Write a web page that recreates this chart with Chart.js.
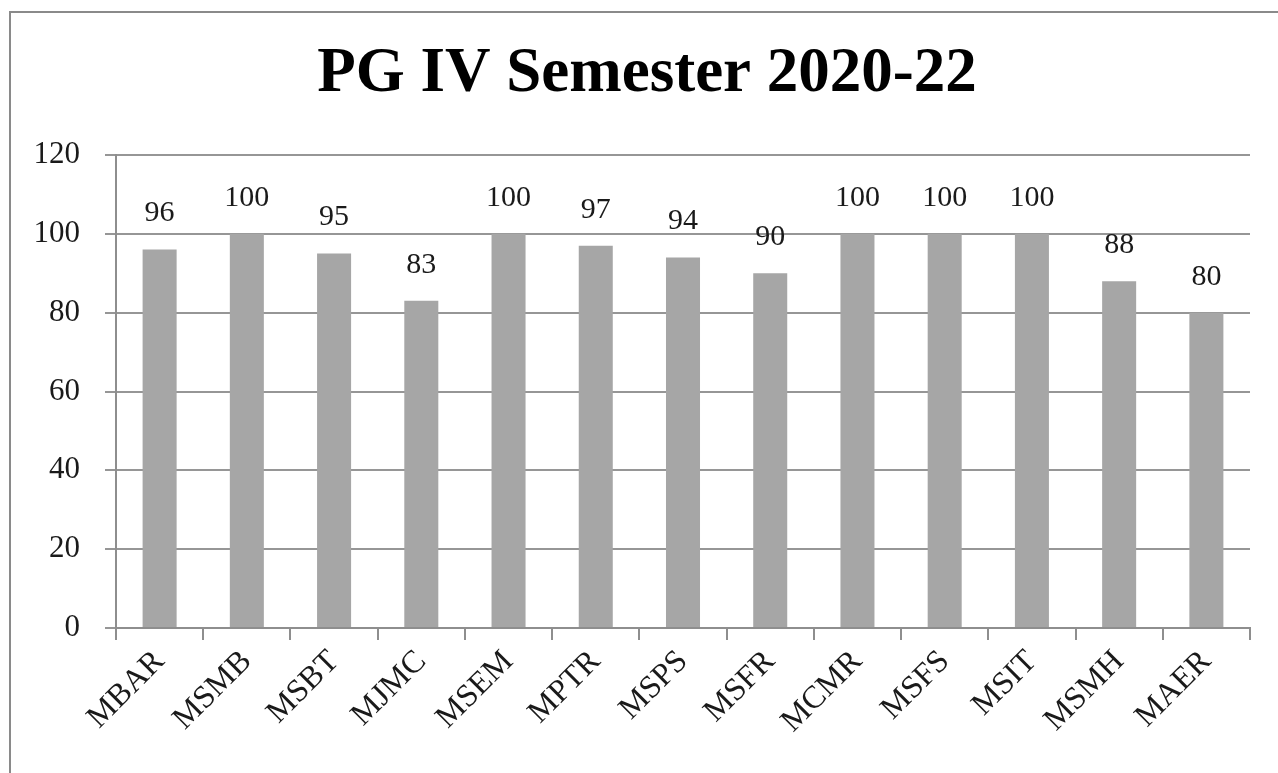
<!DOCTYPE html>
<html>
<head>
<meta charset="utf-8">
<script src="https://cdn.jsdelivr.net/npm/chart.js@4"></script>
<style>
  html, body { margin: 0; padding: 0; background: #fff; }
  #wrap { position: relative; width: 1278px; height: 773px; overflow: hidden; }
  #frame { position: absolute; left: 9px; top: 11px; width: 1300px; height: 800px; border: 2px solid #8a8a8a; box-sizing: border-box; pointer-events: none; }
  canvas { position: absolute; left: 0; top: 0; }
</style>
</head>
<body>
<div id="wrap">
  <canvas id="chart" width="1278" height="773"></canvas>
  <div id="frame"></div>
</div>
<script>
const chartTitle = 'PG IV Semester 2020-22';
const programmes = ['MBAR', 'MSMB', 'MSBT', 'MJMC', 'MSEM', 'MPTR', 'MSPS', 'MSFR', 'MCMR', 'MSFS', 'MSIT', 'MSMH', 'MAER'];
const passPercent = [96, 100, 95, 83, 100, 97, 94, 90, 100, 100, 100, 88, 80];
const yTicks = [0, 20, 40, 60, 80, 100, 120];

const serif = "'Liberation Serif', 'Times New Roman', serif";

// title is centred on the outer frame, not on the plot, so draw it here
const frameTitle = {
  id: 'frameTitle',
  afterDraw(chart) {
    const ctx = chart.ctx;
    ctx.save();
    ctx.font = 'bold 63px ' + serif;
    ctx.fillStyle = '#000';
    ctx.textAlign = 'center';
    ctx.textBaseline = 'middle';
    ctx.fillText(chartTitle, 647, 75);
    ctx.restore();
  }
};

// value labels above each bar
const barLabels = {
  id: 'barLabels',
  afterDatasetsDraw(chart) {
    const ctx = chart.ctx;
    const meta = chart.getDatasetMeta(0);
    ctx.save();
    ctx.font = '30px ' + serif;
    ctx.fillStyle = '#1a1a1a';
    ctx.textAlign = 'center';
    ctx.textBaseline = 'middle';
    meta.data.forEach((bar, i) => {
      ctx.fillText(passPercent[i], bar.x, bar.y - 36);
    });
    ctx.restore();
  }
};

new Chart(document.getElementById('chart'), {
  type: 'bar',
  data: {
    labels: programmes,
    datasets: [{
      data: passPercent,
      backgroundColor: '#a6a6a6',
      borderWidth: 0,
      barPercentage: 0.39,
      categoryPercentage: 1
    }]
  },
  options: {
    responsive: false,
    animation: false,
    layout: { padding: { top: 155, right: 28, left: 0, bottom: 0 } },
    plugins: {
      legend: { display: false },
      tooltip: { enabled: false },
      title: { display: false }
    },
    scales: {
      x: {
        afterFit(scale) { scale.height = 145; },
        grid: { drawOnChartArea: false, drawTicks: true, tickLength: 12, color: '#8e8e8e', lineWidth: 2 },
        border: { display: true, color: '#8e8e8e', width: 2 },
        ticks: {
          color: '#1a1a1a',
          font: { family: serif, size: 32 },
          minRotation: 45,
          maxRotation: 45,
          padding: 3
        }
      },
      y: {
        min: 0,
        max: 120,
        afterFit(scale) { scale.width = 116; },
        afterBuildTicks(scale) { scale.ticks = yTicks.map(v => ({ value: v })); },
        grid: { color: '#969696', lineWidth: 2, drawTicks: true, tickLength: 11 },
        border: { display: true, color: '#8e8e8e', width: 2 },
        ticks: {
          color: '#1a1a1a',
          font: { family: serif, size: 31 },
          padding: 25
        }
      }
    }
  },
  plugins: [barLabels, frameTitle]
});
</script>
</body>
</html>
